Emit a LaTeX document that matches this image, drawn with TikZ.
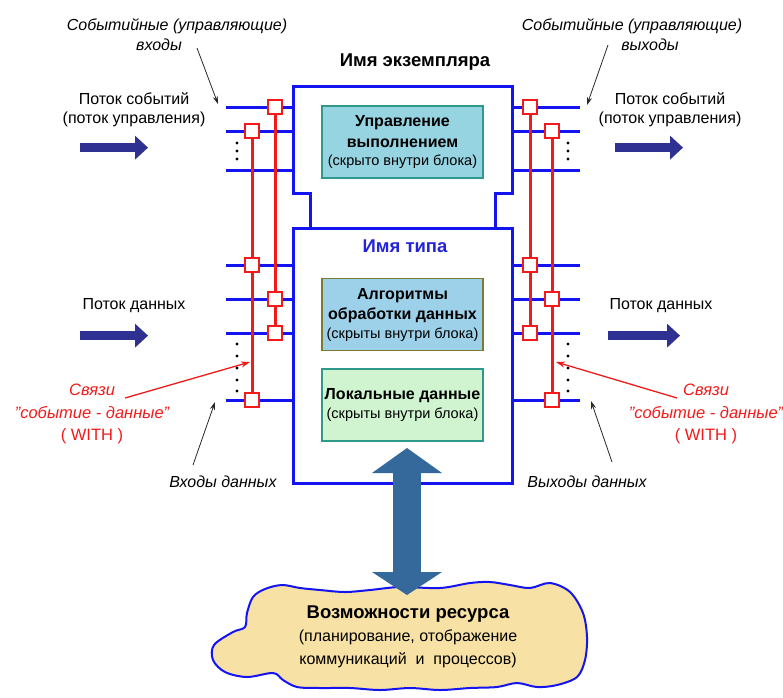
\documentclass[tikz,border=0pt]{standalone}
\usepackage{fontspec}
\setmainfont{Liberation Sans}
\usepackage{xcolor}
\usepackage{tikz}
\usetikzlibrary{arrows.meta, positioning, calc}
\definecolor{frameblue}{HTML}{1414F0}
\definecolor{typeblue}{HTML}{2323D8}
\definecolor{linkred}{HTML}{F21A1A}
\definecolor{flownavy}{HTML}{2E3192}
\definecolor{resblue}{HTML}{35699B}
\definecolor{cloudfill}{HTML}{F8E1A4}
\definecolor{ctrlfill}{HTML}{96D4E2}
\definecolor{algfill}{HTML}{9DD0E9}
\definecolor{locfill}{HTML}{CFF4CF}
\definecolor{tealedge}{HTML}{2F9A8C}
\definecolor{oliveedge}{HTML}{7C7A2C}
\newcommand{\subnote}[1]{{\fontsize{14.5}{17}\selectfont #1}}

\tikzset{
  blk/.style={draw=frameblue, line width=3pt, fill=white},
  port/.style={draw=frameblue, line width=3pt},
  withline/.style={draw=linkred, line width=3pt},
  sq/.style={draw=linkred, fill=white, line width=1.5pt, minimum size=14pt, inner sep=0pt},
  inbox/.style={line width=1.5pt, minimum width=161pt, minimum height=72pt,
                align=center, inner sep=1pt, font=\fontsize{16}{20.5}\selectfont\bfseries},
  title/.style={font=\fontsize{18.5}{22}\selectfont\bfseries},
  lbl/.style={font=\fontsize{16}{19}\selectfont, align=center},
  note/.style={font=\fontsize{16}{20}\selectfont\itshape, align=center},
  relnote/.style={font=\fontsize{16.5}{22.5}\selectfont\itshape, text=linkred, align=center},
  flow/.style={draw=flownavy, line width=9pt,
               -{Triangle[length=13pt, width=24pt, line width=0pt]}},
  ptr/.style={draw=black!85, line width=0.8pt, -{Stealth[length=8pt, width=5pt]}},
  relptr/.style={draw=linkred, line width=1.3pt, -{Stealth[length=9pt, width=6pt]}},
  dotmark/.style={fill=black, circle, inner sep=0pt, minimum size=3.2pt},
}

\begin{document}
\begin{tikzpicture}[x=1pt, y=-1pt]
    \useasboundingbox (0,0) rectangle (783,697);

    % instance frame and type frame
    \path[blk] (310,228) |- (293,193) |- (512,86) |- (495,193) -- (495,228);
    \node[blk, minimum width=219pt, minimum height=255pt] (typeblk) at (402.5,355.5) {};

    \node[title] (instname) at (415,62) {Имя экземпляра};
    \node[title, text=typeblue] (typename) at (405,246) {Имя типа};

    % hidden parts
    \node[inbox, fill=ctrlfill, draw=tealedge] (ctrl) at (402.5,142)
        {Управление\\выполнением\\[-2pt]\subnote{\mdseries(скрыто внутри блока)}};
    \node[inbox, fill=algfill, draw=oliveedge] (algo) at (402.5,314.5)
        {Алгоритмы\\обработки данных\\[-2pt]\subnote{\mdseries(скрыты внутри блока)}};
    \node[inbox, fill=locfill, draw=tealedge] (locdata) at (402.5,405)
        {Локальные данные\\[-1pt]\subnote{\mdseries(скрыты внутри блока)}};

    % ports
    \foreach \y in {107,131,170,265,299,333,400} {
        \draw[port] (typeblk.west |- 0,\y) -- ++(-66,0);
        \draw[port] (typeblk.east |- 0,\y) -- ++(66,0);
    }

    % WITH links
    \foreach \n/\x/\y in {la1/275/107, la2/275/299, la3/275/333,
                          lb1/252/131, lb2/252/265, lb3/252/400,
                          ra1/530/107, ra2/530/265, ra3/530/333,
                          rb1/552/131, rb2/552/299, rb3/552/400}
        \coordinate (\n) at (\x,\y);
    \draw[withline] (la1) -- (la3);
    \draw[withline] (lb1) -- (lb3);
    \draw[withline] (ra1) -- (ra3);
    \draw[withline] (rb1) -- (rb3);
    \foreach \n in {la1,la2,la3,lb1,lb2,lb3,ra1,ra2,ra3,rb1,rb2,rb3}
        \node[sq] at (\n) {};

    % more ports not shown
    \foreach \y in {143,151,159,344,356,368,380,391} {
        \node[dotmark] at (237,\y) {};
        \node[dotmark] at (568,\y) {};
    }

    % labels
    \node[note] (evinlbl) at (177,35) {Событийные (управляющие)\\входы\hspace*{36pt}};
    \node[note] (evoutlbl) at (632,35) {Событийные (управляющие)\\\hspace*{36pt}выходы};
    \node[lbl] (evflin) at (134,110) {Поток событий\\(поток управления)};
    \node[lbl] (evflout) at (670,110) {Поток событий\\(поток управления)};
    \node[lbl] (dflin) at (134,306) {Поток данных};
    \node[lbl] (dflout) at (661,306) {Поток данных};
    \node[relnote] (relin) at (92,414) {Связи\\"событие - данные"\\\upshape( WITH )};
    \node[relnote] (relout) at (706,414) {Связи\\"событие - данные"\\\upshape( WITH )};
    \node[note] (dinlbl) at (223,482) {Входы данных};
    \node[note] (doutlbl) at (587,482) {Выходы данных};

    % flow arrows
    \draw[flow] ([shift={(-54,17)}]evflin.south) -- ++(68,0);
    \draw[flow] ([shift={(-55,17)}]evflout.south) -- ++(68,0);
    \draw[flow] ([shift={(-54,19)}]dflin.south) -- ++(68,0);
    \draw[flow] ([shift={(-53,19)}]dflout.south) -- ++(72,0);

    % pointers
    \coordinate (evinA) at (197,48);   \coordinate (evinB) at (218,104);
    \coordinate (evoutA) at (608,45);  \coordinate (evoutB) at (587,105);
    \coordinate (dinA) at (193,465);   \coordinate (dinB) at (215,402);
    \coordinate (doutA) at (612,462);  \coordinate (doutB) at (591,401);
    \draw[ptr] (evinA) -- (evinB);
    \draw[ptr] (evoutA) -- (evoutB);
    \draw[ptr] (dinA) -- (dinB);
    \draw[ptr] (doutA) -- (doutB);
    \coordinate (relinA) at (125,398);   \coordinate (relinB) at (250,362);
    \coordinate (reloutA) at (677,398);  \coordinate (reloutB) at (556,362);
    \draw[relptr] (relinA) -- (relinB);
    \draw[relptr] (reloutA) -- (reloutB);

    % resource cloud
    \draw[draw=frameblue, line width=2pt, fill=cloudfill]
        plot[smooth cycle, tension=0.55] coordinates {
        (247,613) (253,597) (265,589) (282,585) (300,588) (320,590) (345,592)
        (370,590) (400,587) (440,588) (470,583) (490,582) (510,585) (530,588)
        (550,583) (570,592) (583,613) (587,637) (585,660) (577,677) (557,685)
        (537,687) (517,683) (497,687) (470,688) (440,690) (410,688) (380,690)
        (350,688) (320,688) (297,687) (283,680) (273,673) (247,677) (225,672)
        (213,660) (214,645) (233,632) (245,627)};
    \node[lbl, font=\fontsize{16}{23}\selectfont] (restext) at (408,637)
        {{\fontsize{18.5}{22}\selectfont\bfseries Возможности ресурса}\\
         (планирование, отображение\hspace*{16pt}\\коммуникаций \ и \ процессов)};

    \coordinate (resA) at (407,448);
    \coordinate (resB) at (407,595);
    \draw[draw=resblue, line width=28pt,
          {Triangle[length=25pt, width=70pt, line width=0pt]}-{Triangle[length=23pt, width=70pt, line width=0pt]}]
        (resA) -- (resB);
\end{tikzpicture}
\end{document}
